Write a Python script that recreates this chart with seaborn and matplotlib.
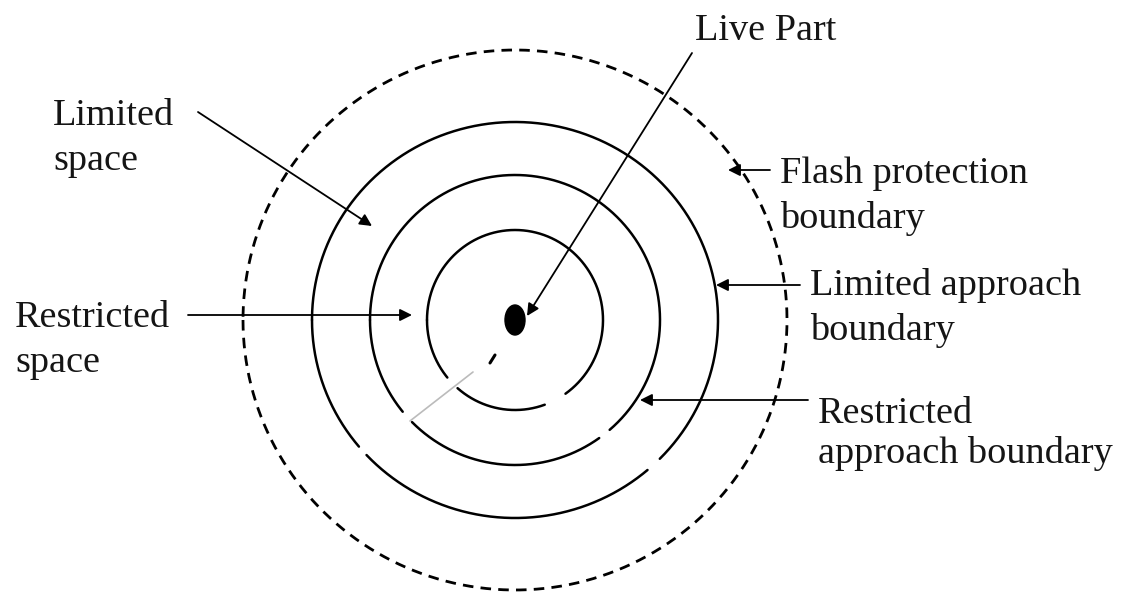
import numpy as np, pandas as pd, matplotlib
matplotlib.use("Agg")
import matplotlib.pyplot as plt; import seaborn as sns
from matplotlib.patches import Ellipse

# ring geometry (pixels)
CENTER = (515, 320)
RING_NAMES = ["inner", "middle", "outer", "flash"]
RING_RX = [88, 145, 203, 272]
RING_RY = [90, 145, 198, 270]
GAP_LL = [224.5, 222.0, 221.3, None]      # gap centre, degrees
GAP_LL_W = [9, 5, 3, 0]
GAP_LR = [-62.6, -51.8, -46.8, None]
GAP_LR_W = [15, 5, 4.5, 0]

LABELS = ["Live Part", "Limited\nspace", "Restricted\nspace", "Flash protection\nboundary",
          "Limited approach\nboundary", "Restricted\napproach boundary"]
LABEL_XY = [(695, 40), (53, 125), (15, 327), (780, 183), (810, 295), (818, 423)]
ARROW_TAIL = [(692, 53), (198, 112), (188, 315), (770, 170), (800, 285), (808, 400)]
ARROW_HEAD = [(527, 316), (372, 226), (412, 315), (728, 170), (716, 285), (640, 400)]
STRAY_LINE = [(473, 372), (410, 421)]
STRAY_DASH = [(490, 363), (495, 355)]

sns.set_theme(style="white")
plt.rcParams["font.family"] = ["Liberation Serif", "DejaVu Serif"]

fig = plt.figure(figsize=(11.29, 5.99), dpi=100)
ax = fig.add_axes([0, 0, 1, 1])

def arc_rows(i):
    gaps = [(g, w) for g, w in [(GAP_LL[i], GAP_LL_W[i]), (GAP_LR[i], GAP_LR_W[i])] if g is not None]
    t = np.linspace(-180, 180, 1441)
    seg, rows, keep_prev = 0, [], True
    for a in t:
        keep = all(abs(((a - g + 180) % 360) - 180) > w / 2 for g, w in gaps)
        if keep and not keep_prev: seg += 1
        if keep:
            r = np.radians(a)
            rows.append((CENTER[0] + RING_RX[i]*np.cos(r), CENTER[1] - RING_RY[i]*np.sin(r), f"{RING_NAMES[i]}{seg}"))
        keep_prev = keep
    return rows

solid = pd.DataFrame([row for i in range(3) for row in arc_rows(i)], columns=["x", "y", "seg"])
sns.lineplot(data=solid, x="x", y="y", units="seg", estimator=None, sort=False,
             color="black", lw=1.8, ax=ax, legend=False)
dash = pd.DataFrame(arc_rows(3), columns=["x", "y", "seg"])
sns.lineplot(data=dash, x="x", y="y", units="seg", estimator=None, sort=False,
             color="black", lw=2.0, ax=ax, legend=False, linestyle=(0, (3.8, 2.6)))
ax.set_xlim(0, 1129); ax.set_ylim(599, 0); ax.axis("off")

ax.add_patch(Ellipse(CENTER, 20, 30, color="black"))
ax.plot(*zip(*STRAY_LINE), color="#bbbbbb", lw=1.2)
ax.plot(*zip(*STRAY_DASH), color="black", lw=2.2)

for i, (txt, (x, y)) in enumerate(zip(LABELS, LABEL_XY)):
    step = 45 if i != 5 else 40
    for k, ln in enumerate(txt.split("\n")):
        ax.text(x, y + k*step, ln, fontsize=27.5, color="#151515", va="baseline", ha="left")

for i, (tail, head) in enumerate(zip(ARROW_TAIL, ARROW_HEAD)):
    col = "#666666" if i == 0 else "#333333"
    ax.annotate("", xy=head, xytext=tail,
                arrowprops=dict(arrowstyle="-|>", color=col, lw=1.3, mutation_scale=18,
                                shrinkA=0, shrinkB=0, fc="black", ec="black"))

fig.savefig("out.png", dpi=100, facecolor="white")
